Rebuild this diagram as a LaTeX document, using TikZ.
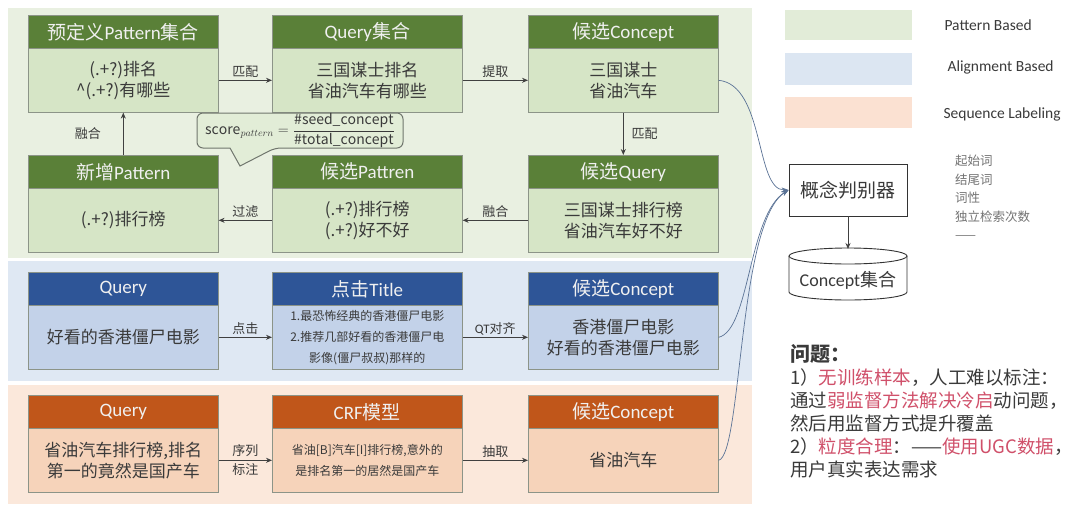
\documentclass[tikz,border=0pt]{standalone}
\usepackage{fontspec}
\setmainfont{Noto Sans CJK SC}
\newfontfamily\lat{Carlito}
\usetikzlibrary{arrows.meta}
\definecolor{gpanel}{HTML}{E9F0E1}
\definecolor{ghead}{HTML}{5A8038}
\definecolor{gbody}{HTML}{D6E5C6}
\definecolor{bpanel}{HTML}{DFE8F3}
\definecolor{bhead}{HTML}{2E5597}
\definecolor{bbody}{HTML}{C3D2E9}
\definecolor{opanel}{HTML}{FBE8DB}
\definecolor{ohead}{HTML}{C0561A}
\definecolor{obody}{HTML}{F6D3BA}
\definecolor{edgec}{HTML}{8C9488}
\definecolor{txt}{HTML}{3A3A3A}
\definecolor{pinkred}{HTML}{D0506A}
\definecolor{curvec}{HTML}{5B7396}
\definecolor{lgreen}{HTML}{E2ECD8}
\definecolor{lblue}{HTML}{DCE6F2}
\definecolor{lpeach}{HTML}{FBE1D2}
\newcommand\mybox[7]{%
  \node[bodybox, fill=#5] (#1) at (#2,#3+33) {#7};
  \node[headbox, fill=#4] (#1h) at (#2,#3) {#6};
}
\begin{document}
\begin{tikzpicture}[x=1pt,y=-1pt,
  headbox/.style={draw=edgec, line width=0.6pt, minimum width=190pt, minimum height=33pt, anchor=north west, inner sep=0pt, text=white!94!black, font=\fontsize{19}{22}\selectfont},
  bodybox/.style={draw=edgec, line width=0.6pt, minimum width=190pt, minimum height=64pt, anchor=north west, inner sep=2pt, align=center, text=txt, font=\fontsize{17}{21}\selectfont},
  lbl/.style={font=\fontsize{13}{15}\selectfont, text=txt, inner sep=2pt},
  arr/.style={-{Stealth[length=6pt,width=5pt]}, line width=0.8pt, draw=black!75},
  carr/.style={-{Stealth[length=7pt,width=5pt]}, line width=0.7pt, draw=curvec},
  legtext/.style={anchor=west, font=\lat\fontsize{15.5}{18}\selectfont, text=txt},
]
\useasboundingbox (0,0) rectangle (1080,504);
\fill[white] (0,0) rectangle (1080,504);
% panels
\fill[gpanel] (8,8) rectangle (752,258);
\fill[bpanel] (8,261) rectangle (752,381);
\fill[opanel] (8,385) rectangle (752,504);
% legend
\node[fill=lgreen, minimum width=127pt, minimum height=30pt, anchor=north west, inner sep=0pt] (lg1) at (785,10) {};
\node[fill=lblue, minimum width=127pt, minimum height=32pt, anchor=north west, inner sep=0pt] (lg2) at (785,53) {};
\node[fill=lpeach, minimum width=127pt, minimum height=31pt, anchor=north west, inner sep=0pt] (lg3) at (785,97) {};
\node[legtext] (lt1) at (941,25) {Pattern Based};
\node[legtext] (lt2) at (944,67) {Alignment Based};
\node[legtext] (lt3) at (940,114) {Sequence Labeling};
% pattern based
\mybox{p1}{28}{15}{ghead}{gbody}{预定义{\lat Pattern}集合}{(.+?)排名\\\^{}(.+?)有哪些}
\mybox{p2}{272}{15}{ghead}{gbody}{{\lat Query}集合}{三国谋士排名\\省油汽车有哪些}
\mybox{p3}{528}{15}{ghead}{gbody}{候选{\lat Concept}}{三国谋士\\省油汽车}
\mybox{q1}{28}{155}{ghead}{gbody}{新增{\lat Pattern}}{(.+?)排行榜}
\mybox{q2}{272}{155}{ghead}{gbody}{候选{\lat Pattren}}{(.+?)排行榜\\(.+?)好不好}
\mybox{q3}{528}{155}{ghead}{gbody}{候选{\lat Query}}{三国谋士排行榜\\省油汽车好不好}
% alignment based
\mybox{r1}{28}{272}{bhead}{bbody}{{\lat Query}}{好看的香港僵尸电影}
\mybox{r2}{272}{272}{bhead}{bbody}{点击{\lat Title}}{\fontsize{12}{14.5}\selectfont 1.最恐怖经典的香港僵尸电影\\\fontsize{12}{14.5}\selectfont 2.推荐几部好看的香港僵尸电\\\fontsize{12}{14.5}\selectfont 影像(僵尸叔叔)那样的}
\mybox{r3}{528}{272}{bhead}{bbody}{候选{\lat Concept}}{香港僵尸电影\\好看的香港僵尸电影}
% sequence labeling
\mybox{s1}{28}{395}{ohead}{obody}{{\lat Query}}{省油汽车排行榜,排名\\第一的竟然是国产车}
\mybox{s2}{272}{395}{ohead}{obody}{{\lat CRF}模型}{\fontsize{12}{15}\selectfont 省油[B]汽车[I]排行榜,意外的\\\fontsize{12}{15}\selectfont 是排名第一的居然是国产车}
\mybox{s3}{528}{395}{ohead}{obody}{候选{\lat Concept}}{省油汽车}
% arrows pattern
\draw[arr] (p1.east) -- node[lbl, above] (l1) {匹配} (p2.west);
\draw[arr] (p2.east) -- node[lbl, above] (l2) {提取} (p3.west);
\draw[arr] (p3.south) -- node[lbl, right=6pt] (l3) {匹配} (q3h.north);
\draw[arr] (q3.west) -- node[lbl, above] (l4) {融合} (q2.east);
\draw[arr] (q2.west) -- node[lbl, above] (l5) {过滤} (q1.east);
\draw[arr] (q1h.north) -- node[lbl, left=20pt] (l6) {融合} (p1.south);
% callout
\draw[draw=edgec!80!black, line width=1pt, fill=gbody!70!white, rounded corners=6pt]
  (197,113) -- (403,113) -- (403,148) -- (275,148) [sharp corners] -- (240,166) -- (230,148) [rounded corners=6pt] -- (197,148) -- cycle;
\node[font=\fontsize{14}{16}\selectfont, text=txt, inner sep=0pt] (fm) at (300,130.5)
  {$\mathrm{score}_{pattern}=\displaystyle\frac{\#\mathit{seed\_concept}}{\#\mathit{total\_concept}}$};
% arrows alignment
\draw[arr] (r1.east) -- node[lbl, above] (l7) {点击} (r2.west);
\draw[arr] (r2.east) -- node[lbl, above] (l8) {{\lat QT}对齐} (r3.west);
% arrows sequence
\draw[arr] (s1.east) -- node[lbl, align=center, font=\fontsize{13}{19}\selectfont] (l9) {序列\\标注} (s2.west);
\draw[arr] (s2.east) -- node[lbl, above] (l10) {抽取} (s3.west);
% classifier
\node[draw=black!80, line width=0.9pt, minimum width=118pt, minimum height=52pt, fill=white, font=\fontsize{19}{22}\selectfont, text=txt] (cls) at (848,190) {概念判别器};
\draw[carr] (p3.east) .. controls (765,85) and (755,190) .. (cls.west);
\draw[carr] (r3.east) .. controls (750,330) and (748,215) .. (cls.west);
\draw[carr] (s3.east) .. controls (742,455) and (738,222) .. (cls.west);
% cylinder
\draw[line width=0.9pt, draw=black!80, fill=white] (789,256) -- (789,292) arc[start angle=180, end angle=360, x radius=59pt, y radius=8pt] -- (907,256);
\draw[line width=0.9pt, draw=black!80, fill=white] (848,256) ellipse[x radius=59pt, y radius=8pt];
\node[font=\fontsize{18}{20}\selectfont, text=txt, inner sep=0pt] (cyl) at (848,280) {{\lat Concept}集合};
\coordinate (cyltop) at (848,249);
\draw[arr] (cls.south) -- (cyltop);
% features
\node[anchor=north west, align=left, font=\fontsize{12.5}{18.5}\selectfont, text=black!55, inner sep=0pt] (feat) at (955,155) {起始词\\结尾词\\词性\\独立检索次数\\——};
% problem text
\node[anchor=north west, align=left, font=\fontsize{18.5}{23}\selectfont, text=txt, inner sep=0pt] (prob) at (790,344)
{{\fontsize{20}{23}\selectfont\bfseries 问题：}\\
1）\textcolor{pinkred}{无训练样本}，人工难以标注：\\
通过\textcolor{pinkred}{弱监督方法解决冷启}动问题，\\
然后用监督方式提升覆盖\\
2）\textcolor{pinkred}{粒度合理}：——\textcolor{pinkred}{使用UGC数据}，\\
用户真实表达需求};
\end{tikzpicture}
\end{document}
